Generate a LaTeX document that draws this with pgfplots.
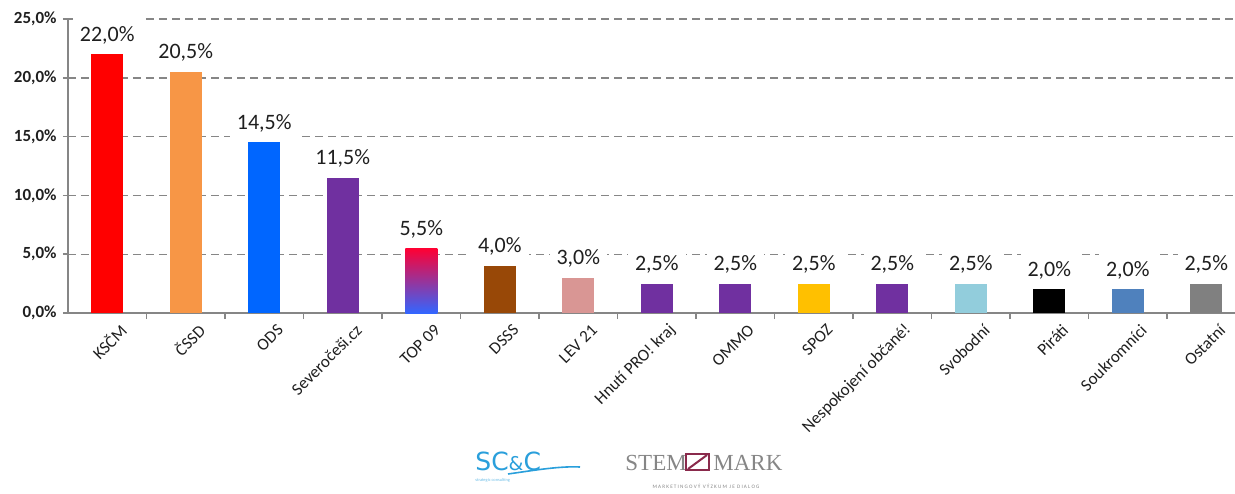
\documentclass[border=0pt]{standalone}
\usepackage{fontspec}
\setmainfont{Carlito}
\newfontfamily\logoserif{Liberation Serif}
\newfontfamily\logosans{DejaVu Sans}
\usepackage{pgfplots}
\pgfplotsset{compat=1.18}
\definecolor{axgray}{HTML}{868686}
\definecolor{txt}{HTML}{1F1F1F}
\definecolor{cKSCM}{HTML}{FF0000}
\definecolor{cCSSD}{HTML}{F79646}
\definecolor{cODS}{HTML}{0066FF}
\definecolor{cPurp}{HTML}{7030A0}
\definecolor{cTopT}{HTML}{FF0033}
\definecolor{cTopM}{HTML}{A23CC0}
\definecolor{cTopB}{HTML}{3366FF}
\definecolor{cDSSS}{HTML}{984807}
\definecolor{cLEV}{HTML}{D99694}
\definecolor{cSPOZ}{HTML}{FFC000}
\definecolor{cSvob}{HTML}{92CDDC}
\definecolor{cSouk}{HTML}{4F81BD}
\definecolor{cOst}{HTML}{808080}
\definecolor{scc}{HTML}{2A9FDB}
\definecolor{stem}{HTML}{8A2A4C}

\begin{document}
\begin{tikzpicture}
\useasboundingbox (-34pt,-90pt) rectangle (583.5pt,156.5pt);
\begin{axis}[at={(0,0)}, anchor=south west, scale only axis,
  width=583.5pt, height=147pt, clip=false,
  xmin=-0.5, xmax=14.366, ymin=0, ymax=25,
  axis x line*=bottom, axis y line*=left,
  axis line style={axgray, line width=0.8pt, -},
  ybar, bar width=16pt, bar shift=0pt,
  xtick={0,...,14},
  xticklabels={KSČM,ČSSD,ODS,Severočeši.cz,TOP 09,DSSS,LEV 21,Hnutí PRO! kraj,
    OMMO,SPOZ,Nespokojení občané!,Svobodní,Piráti,Soukromníci,Ostatní},
  x tick label style={rotate=45, anchor=east, inner sep=0pt, text=txt,
    font=\fontsize{8.5}{10}\selectfont, xshift=2.5pt, yshift=-9pt},
  major x tick style={draw=none}, minor x tick num=1,
  tick align=outside, minor tick length=3pt, major tick length=2.5pt,
  tick style={axgray, line width=0.8pt},
  ytick={0,5,...,25},
  yticklabel={\pgfmathprintnumber[fixed,fixed zerofill,precision=1,use comma,
    assume math mode=true]{\tick}\%},
  y tick label style={font=\bfseries\fontsize{8.5}{10}\selectfont, text=txt,
    inner sep=1pt, xshift=-2pt},
  ymajorgrids, y grid style={axgray, line width=0.7pt, dash pattern=on 4pt off 2.5pt},
  nodes near coords={\pgfmathprintnumber[fixed,fixed zerofill,precision=1,
    use comma,assume math mode=true]{\pgfplotspointmeta}\%},
  every node near coord/.append style={font=\fontsize{11}{12}\selectfont,
    text=txt, fill=white, inner xsep=3.5pt, inner ysep=4pt, anchor=south, yshift=1pt},
]
\addplot[fill=cKSCM, draw=none] coordinates {(0,22.0)};
\addplot[fill=cCSSD, draw=none] coordinates {(1,20.5)};
\addplot[fill=cODS, draw=none] coordinates {(2,14.5)};
\addplot[fill=cPurp, draw=none] coordinates {(3,11.5)};
\addplot[top color=cTopT, middle color=cTopM, bottom color=cTopB, draw=none]
  coordinates {(4,5.5)};
\addplot[fill=cDSSS, draw=none] coordinates {(5,4.0)};
\addplot[fill=cLEV, draw=none] coordinates {(6,3.0)};
\addplot[fill=cPurp, draw=none] coordinates {(7,2.5)};
\addplot[fill=cPurp, draw=none] coordinates {(8,2.5)};
\addplot[fill=cSPOZ, draw=none] coordinates {(9,2.5)};
\addplot[fill=cPurp, draw=none] coordinates {(10,2.5)};
\addplot[fill=cSvob, draw=none] coordinates {(11,2.5)};
\addplot[fill=black, draw=none] coordinates {(12,2.0)};
\addplot[fill=cSouk, draw=none] coordinates {(13,2.0)};
\addplot[fill=cOst, draw=none] coordinates {(14,2.5)};
\end{axis}
% logos
\node[anchor=base west, inner sep=0pt, text=scc]
  at (203.5pt,-78.5pt) {\logosans\fontsize{12.5}{13}\selectfont SC\fontsize{9.5}{10}\selectfont\&\fontsize{12.5}{13}\selectfont C};
\draw[scc, line width=0.8pt] (220pt,-80.5pt) .. controls (234pt,-78.5pt) and (246pt,-76.5pt) .. (256pt,-77pt);
\node[anchor=base west, inner sep=0pt, text=scc!70]
  at (203.5pt,-84pt) {\fontsize{2.2}{3}\selectfont strategic consulting};
\node[anchor=base west, inner sep=0pt, text=axgray]
  at (278.5pt,-78.5pt) {\logoserif\fontsize{11.5}{12}\selectfont STEM};
\draw[stem, line width=1pt] (309pt,-78.5pt) rectangle (320.5pt,-70.5pt);
\draw[stem, line width=1pt] (310pt,-78pt) -- (319.5pt,-71pt);
\node[anchor=base west, inner sep=0pt, text=axgray]
  at (322.5pt,-78.5pt) {\logoserif\fontsize{11.5}{12}\selectfont MARK};
\node[inner sep=0pt, text=axgray]
  at (319pt,-86.5pt) {\fontsize{2.6}{3}\selectfont M A R K E T I N G O V Ý\ \ V Ý Z K U M\ \ J E\ \ D I A L O G};
\end{tikzpicture}
\end{document}
